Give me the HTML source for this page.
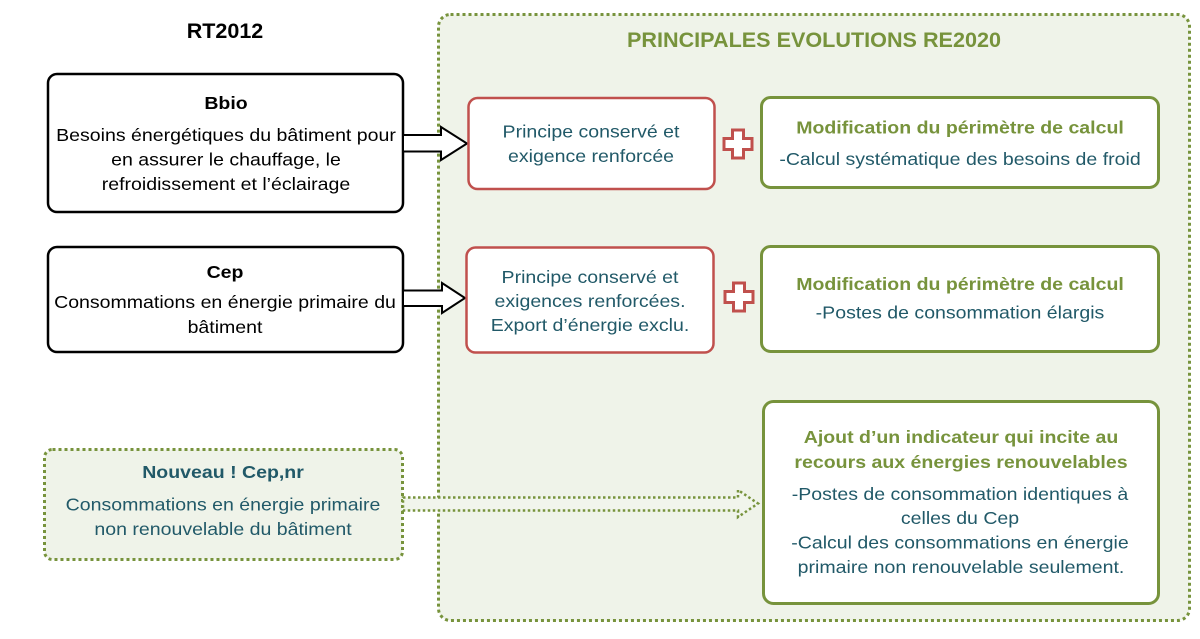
<!DOCTYPE html>
<html>
<head>
<meta charset="utf-8">
<style>
  html, body { margin:0; padding:0; background:#ffffff; }
  body { width:1200px; height:639px; overflow:hidden; }
  svg { display:block; }
  text { font-family: "Liberation Sans", Arial, sans-serif; }
</style>
</head>
<body>
<svg width="1200" height="639" viewBox="0 0 1200 639" xmlns="http://www.w3.org/2000/svg">
  <rect x="0" y="0" width="1200" height="639" fill="#ffffff"/>

  <!-- Big container -->
  <rect x="438.5" y="14.5" width="751" height="606" rx="12" ry="12" fill="#eff3e9" stroke="#77933c" stroke-width="3" stroke-dasharray="3 3"/>

  <!-- Titles -->
  <text x="225" y="38" font-size="21.5" font-weight="bold" text-anchor="middle" fill="#000">RT2012</text>
  <text x="814" y="47" font-size="21.6" font-weight="bold" text-anchor="middle" fill="#77933c">PRINCIPALES EVOLUTIONS RE2020</text>

  <!-- Bbio box -->
  <rect x="48" y="74" width="355" height="138" rx="9" ry="9" fill="#ffffff" stroke="#000" stroke-width="2.5"/>
  <g fill="#000" font-size="18" text-anchor="middle">
    <text transform="translate(226,109) scale(1.086 1)" font-weight="bold">Bbio</text>
    <text transform="translate(226,141) scale(1.086 1)">Besoins énergétiques du bâtiment pour</text>
    <text transform="translate(226,165.5) scale(1.086 1)">en assurer le chauffage, le</text>
    <text transform="translate(226,190) scale(1.086 1)">refroidissement et l’éclairage</text>
  </g>

  <!-- Cep box -->
  <rect x="48" y="247" width="355" height="105" rx="9" ry="9" fill="#ffffff" stroke="#000" stroke-width="2.5"/>
  <g fill="#000" font-size="18" text-anchor="middle">
    <text transform="translate(225,278) scale(1.086 1)" font-weight="bold">Cep</text>
    <text transform="translate(225,308) scale(1.086 1)">Consommations en énergie primaire du</text>
    <text transform="translate(225,333) scale(1.086 1)">bâtiment</text>
  </g>

  <!-- Hollow arrows -->
  <polygon points="403,135 441,135 441,127 467,143.5 441,160 441,151.5 403,151.5" fill="#ffffff" stroke="#000" stroke-width="2" stroke-linejoin="miter"/>
  <polygon points="403,290.5 442,290.5 442,283 465,298 442,313 442,306 403,306" fill="#ffffff" stroke="#000" stroke-width="2" stroke-linejoin="miter"/>

  <!-- Red box 1 -->
  <rect x="468.5" y="98" width="246" height="91" rx="9" ry="9" fill="#ffffff" stroke="#c0504d" stroke-width="2.5"/>
  <g fill="#215968" font-size="18" text-anchor="middle">
    <text transform="translate(591,137.5) scale(1.086 1)">Principe conservé et</text>
    <text transform="translate(591,162) scale(1.086 1)">exigence renforcée</text>
  </g>

  <!-- Red box 2 -->
  <rect x="466.5" y="247.5" width="247" height="105" rx="9" ry="9" fill="#ffffff" stroke="#c0504d" stroke-width="2.5"/>
  <g fill="#215968" font-size="18" text-anchor="middle">
    <text transform="translate(590,283) scale(1.086 1)">Principe conservé et</text>
    <text transform="translate(590,307) scale(1.086 1)">exigences renforcées.</text>
    <text transform="translate(590,331) scale(1.086 1)">Export d’énergie exclu.</text>
  </g>

  <!-- Plus signs -->
  <polygon points="732.5,130 743.5,130 743.5,138.5 752,138.5 752,149.5 743.5,149.5 743.5,158 732.5,158 732.5,149.5 724,149.5 724,138.5 732.5,138.5" fill="#ffffff" stroke="#c0504d" stroke-width="3" stroke-linejoin="miter"/>
  <polygon points="733.5,283 744.5,283 744.5,291.5 753,291.5 753,302.5 744.5,302.5 744.5,311 733.5,311 733.5,302.5 725,302.5 725,291.5 733.5,291.5" fill="#ffffff" stroke="#c0504d" stroke-width="3" stroke-linejoin="miter"/>

  <!-- Green box 1 -->
  <rect x="761.5" y="97.5" width="397" height="90" rx="9" ry="9" fill="#ffffff" stroke="#77933c" stroke-width="3"/>
  <g font-size="18" text-anchor="middle">
    <text transform="translate(960,133.5) scale(1.086 1)" font-weight="bold" fill="#77933c">Modification du périmètre de calcul</text>
    <text transform="translate(960,165) scale(1.086 1)" fill="#215968">-Calcul systématique des besoins de froid</text>
  </g>

  <!-- Green box 2 -->
  <rect x="761.5" y="246.5" width="397" height="105" rx="9" ry="9" fill="#ffffff" stroke="#77933c" stroke-width="3"/>
  <g font-size="18" text-anchor="middle">
    <text transform="translate(960,290) scale(1.086 1)" font-weight="bold" fill="#77933c">Modification du périmètre de calcul</text>
    <text transform="translate(960,318.5) scale(1.086 1)" fill="#215968">-Postes de consommation élargis</text>
  </g>

  <!-- Green box 3 -->
  <rect x="763.5" y="401.5" width="395" height="202" rx="10" ry="10" fill="#ffffff" stroke="#77933c" stroke-width="3"/>
  <g font-size="18" text-anchor="middle">
    <text transform="translate(961,443) scale(1.086 1)" font-weight="bold" fill="#77933c">Ajout d’un indicateur qui incite au</text>
    <text transform="translate(961,468) scale(1.086 1)" font-weight="bold" fill="#77933c">recours aux énergies renouvelables</text>
    <text transform="translate(960,500) scale(1.086 1)" fill="#215968">-Postes de consommation identiques à</text>
    <text transform="translate(960,524) scale(1.086 1)" fill="#215968">celles du Cep</text>
    <text transform="translate(960,548.5) scale(1.086 1)" fill="#215968">-Calcul des consommations en énergie</text>
    <text transform="translate(961,573) scale(1.086 1)" fill="#215968">primaire non renouvelable seulement.</text>
  </g>

  <!-- Nouveau box -->
  <rect x="44.5" y="449.5" width="358" height="110" rx="8" ry="8" fill="#eff3e9" stroke="#77933c" stroke-width="3" stroke-dasharray="3 3"/>
  <g fill="#215968" font-size="18" text-anchor="middle">
    <text transform="translate(223,478) scale(1.086 1)" font-weight="bold">Nouveau ! Cep,nr</text>
    <text transform="translate(223,510.5) scale(1.086 1)">Consommations en énergie primaire</text>
    <text transform="translate(223,535) scale(1.086 1)">non renouvelable du bâtiment</text>
  </g>

  <!-- Dotted arrow -->
  <polygon points="403,497.5 738,497.5 738,490 758,503.5 738,517 738,510.5 403,510.5" fill="#f1f5ec" stroke="#77933c" stroke-width="2.5" stroke-dasharray="2.5 2.5"/>
</svg>
</body>
</html>
